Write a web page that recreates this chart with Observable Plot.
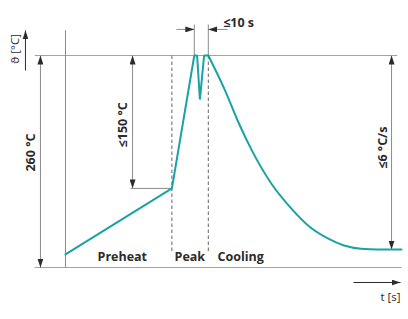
<!DOCTYPE html>
<html>
<head>
<meta charset="utf-8">
<script src="https://cdn.jsdelivr.net/npm/d3@7"></script>
<script src="https://cdn.jsdelivr.net/npm/@observablehq/plot@0.6"></script>
<style>
  html, body { margin: 0; padding: 0; background: #fff; }
  svg { display: block; }
</style>
</head>
<body>
<div id="chart"></div>
<script>
// Reflow soldering profile (schematic), time in s, temperature in °C
const heatTime = [0, 76, 92, 94, 96, 99, 102];
const heatTemp = [16, 97, 260, 260, 206, 260, 260];
const coolTime = [102, 114, 123, 133, 147, 162, 175, 187, 199, 211, 223, 240];
const coolTemp = [260, 217, 180, 144, 103, 71, 49, 36, 27, 23, 22, 22];

const peakTemp = 260;        // 260 °C
const preheatEndTime = 76;
const preheatEndTemp = 97;   // peak - ≤150 °C
const peakStart = 92;
const peakEnd = 102;         // ≤10 s
const endTemp = 22;

const phaseLabels = ["Preheat", "Peak", "Cooling"];
const dimLabels = ["260 °C", "≤150 °C", "≤10 s", "≤6 °C/s"];
const axisLabels = ["ϑ [°C]", "t [s]"];

const heat = heatTime.map((t, i) => ({t, T: heatTemp[i]}));
const cool = coolTime.map((t, i) => ({t, T: coolTemp[i]}));

const TEAL = "#1aa2a4";
const FRAME = "#a3a3a3";
const DIM = "#8a8a8a";
const INK = "#2b2b2b";
const FONT = "'Open Sans', sans-serif";

// filled arrowhead marker
const head = (color, context) => {
  const m = d3.create("svg:marker")
    .attr("viewBox", "-9 -3 9 6")
    .attr("markerWidth", 9)
    .attr("markerHeight", 6)
    .attr("markerUnits", "userSpaceOnUse")
    .attr("orient", "auto-start-reverse");
  m.append("path").attr("d", "M0,0L-9,-3L-9,3Z").attr("fill", INK).attr("stroke", "none");
  return m.node();
};

const one = [0];
const link = (x1, y1, x2, y2, opts) => Plot.link(one, {x1: () => x1, y1: () => y1, x2: () => x2, y2: () => y2, ...opts});

const chart = Plot.plot({
  width: 408,
  height: 319,
  marginLeft: 65,
  marginRight: 7,
  marginTop: 55,
  marginBottom: 52,
  x: {domain: [0, 240], axis: null},
  y: {domain: [0, 260], axis: null},
  style: {background: "#fff", overflow: "visible"},
  marks: [
    // frame lines
    link(-22, peakTemp, 237, peakTemp, {stroke: FRAME, strokeWidth: 1.2}),
    link(-22, 0, 240, 0, {stroke: FRAME, strokeWidth: 1.2}),
    link(0, 0, 0, 291, {stroke: DIM, strokeWidth: 1}),
    // dashed phase separators
    link(preheatEndTime, peakTemp, preheatEndTime, 18, {stroke: "#666", strokeDasharray: "3.5,2.5", strokeWidth: 1}),
    link(peakEnd, peakTemp, peakEnd, 18, {stroke: "#666", strokeDasharray: "3.5,2.5", strokeWidth: 1}),
    // 260 °C dimension
    link(-17.9, 0, -17.9, peakTemp, {stroke: DIM, strokeWidth: 1, markerStart: head, markerEnd: head}),
    Plot.text([dimLabels[0]], {x: -24.3, y: 141, rotate: -90, text: d => d, fontSize: 12.5, fontWeight: 700, fontFamily: FONT, fill: INK}),
    // ≤150 °C dimension
    link(47.9, preheatEndTemp, 47.9, peakTemp, {stroke: DIM, strokeWidth: 1, markerStart: head, markerEnd: head}),
    link(46.4, preheatEndTemp, preheatEndTime, preheatEndTemp, {stroke: DIM, strokeWidth: 1}),
    Plot.text([dimLabels[1]], {x: 41.4, y: 175, rotate: -90, text: d => d, fontSize: 12.5, fontWeight: 700, fontFamily: FONT, fill: INK}),
    // ≤10 s dimension
    link(peakStart, peakTemp, peakStart, 298, {stroke: DIM, strokeWidth: 1}),
    link(peakEnd, peakTemp, peakEnd, 298, {stroke: DIM, strokeWidth: 1}),
    link(79.3, 292, peakStart, 292, {stroke: DIM, strokeWidth: 1, markerEnd: head}),
    link(115.7, 292, peakEnd, 292, {stroke: DIM, strokeWidth: 1, markerEnd: head}),
    Plot.text([dimLabels[2]], {x: 112.6, y: 300, text: d => d, textAnchor: "start", fontSize: 12.5, fontWeight: 700, fontFamily: FONT, fill: INK}),
    // ≤6 °C/s dimension
    link(232.9, endTemp, 232.9, peakTemp, {stroke: DIM, strokeWidth: 1, markerStart: head, markerEnd: head}),
    Plot.text([dimLabels[3]], {x: 227.1, y: 147, rotate: -90, text: d => d, fontSize: 12.5, fontWeight: 700, fontFamily: FONT, fill: INK}),
    // axis labels with arrows
    link(-28.6, 241.6, -28.6, 290.7, {stroke: INK, strokeWidth: 1, markerEnd: head}),
    Plot.text([axisLabels[0]], {x: -36, y: 268, rotate: -90, text: d => d, fontSize: 11.5, fontFamily: FONT, fill: INK}),
    link(205.7, -18.4, 239.3, -18.4, {stroke: INK, strokeWidth: 1, markerEnd: head}),
    Plot.text([axisLabels[1]], {x: 239.3, y: -36.8, text: d => d, textAnchor: "end", fontSize: 11.5, fontFamily: FONT, fill: INK}),
    // phase labels
    Plot.text(phaseLabels, {x: [22.9, 77.9, 108.6], y: [12.9, 12.9, 12.9], text: d => d, textAnchor: "start", fontSize: 12.5, fontWeight: 700, fontFamily: FONT, fill: INK}),
    // profile curve
    Plot.line(heat, {x: "t", y: "T", stroke: TEAL, strokeWidth: 2, strokeLinejoin: "miter"}),
    Plot.line(cool, {x: "t", y: "T", stroke: TEAL, strokeWidth: 2, curve: "monotone-x"})
  ]
});

document.getElementById("chart").appendChild(chart);
</script>
</body>
</html>
